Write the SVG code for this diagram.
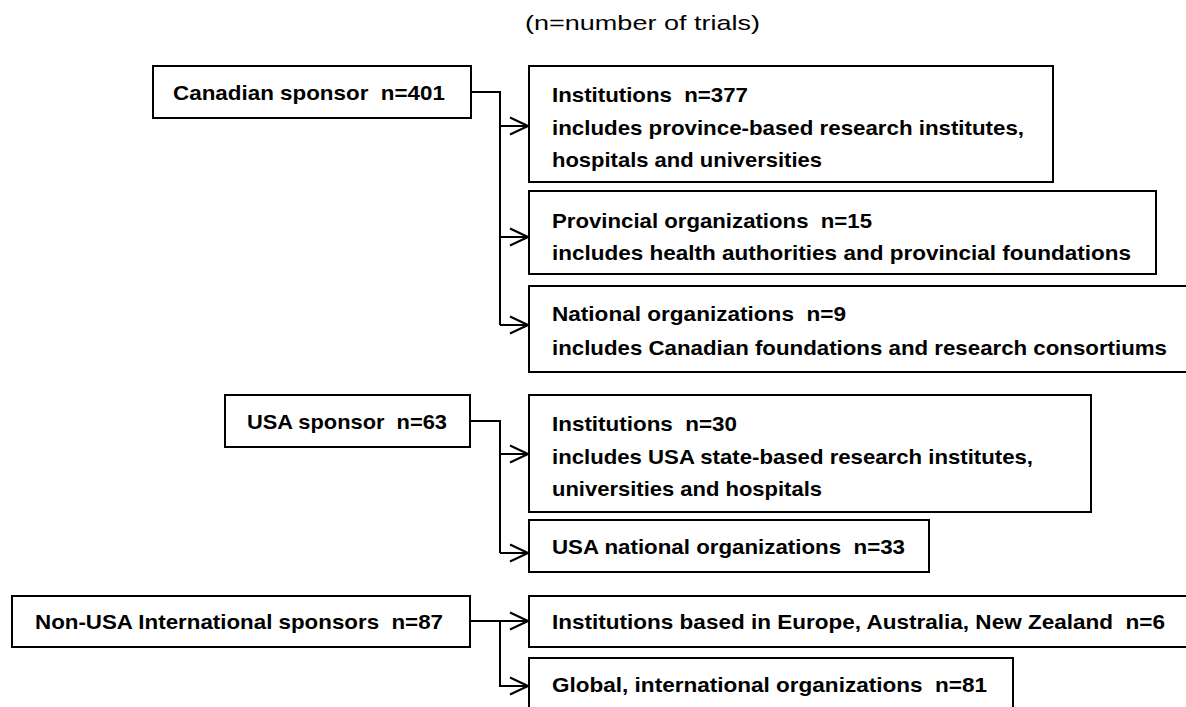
<svg xmlns="http://www.w3.org/2000/svg" width="1186" height="707" viewBox="0 0 1186 707">
<style>
.box{fill:#fff;stroke:#000;stroke-width:2}
.t{font-family:"Liberation Sans",Arial,sans-serif;font-weight:bold;font-size:21px;fill:#000;white-space:pre}
.n{font-family:"Liberation Sans",Arial,sans-serif;font-size:21px;fill:#000;white-space:pre}
.c{fill:none;stroke:#000;stroke-width:2}
</style>
<defs>
<marker id="arr" markerUnits="userSpaceOnUse" markerWidth="20" markerHeight="20" viewBox="0 0 20 20" refX="19" refY="10" orient="auto">
<path d="M1,1.5 L19,10 L1,18.5" fill="none" stroke="#000" stroke-width="2"/>
</marker>
</defs>
<rect width="1186" height="707" fill="#fff"/>
<text class="n" x="525" y="30" textLength="235" lengthAdjust="spacingAndGlyphs">(n=number of trials)</text>

<g id="connectors">
<path class="c" d="M471,92 H500 V325"/>
<path class="c" d="M500,126 H528" marker-end="url(#arr)"/>
<path class="c" d="M500,237 H528" marker-end="url(#arr)"/>
<path class="c" d="M500,325 H528" marker-end="url(#arr)"/>
<path class="c" d="M470,421 H500 V553"/>
<path class="c" d="M500,454 H528" marker-end="url(#arr)"/>
<path class="c" d="M500,553 H528" marker-end="url(#arr)"/>
<path class="c" d="M470,621 H528" marker-end="url(#arr)"/>
<path class="c" d="M500,621 V686 H528" marker-end="url(#arr)"/>
</g>

<g id="canadian">
<rect class="box" x="153" y="66" width="318" height="52"/>
<text class="t" x="173" y="100" textLength="272" lengthAdjust="spacingAndGlyphs">Canadian sponsor  n=401</text>
</g>
<g id="ca-institutions">
<rect class="box" x="529" y="66" width="524" height="116"/>
<text class="t" x="552" y="102" textLength="196" lengthAdjust="spacingAndGlyphs">Institutions  n=377</text>
<text class="t" x="552" y="135" textLength="472" lengthAdjust="spacingAndGlyphs">includes province-based research institutes,</text>
<text class="t" x="552" y="167" textLength="270" lengthAdjust="spacingAndGlyphs">hospitals and universities</text>
</g>
<g id="ca-provincial">
<rect class="box" x="529" y="191" width="627" height="83"/>
<text class="t" x="552" y="228" textLength="320" lengthAdjust="spacingAndGlyphs">Provincial organizations  n=15</text>
<text class="t" x="552" y="260" textLength="579" lengthAdjust="spacingAndGlyphs">includes health authorities and provincial foundations</text>
</g>
<g id="ca-national">
<rect class="box" x="529" y="286" width="663" height="86"/>
<text class="t" x="552" y="321" textLength="294" lengthAdjust="spacingAndGlyphs">National organizations  n=9</text>
<text class="t" x="552" y="355" textLength="615" lengthAdjust="spacingAndGlyphs">includes Canadian foundations and research consortiums</text>
</g>

<g id="usa">
<rect class="box" x="225" y="395" width="245" height="52"/>
<text class="t" x="247" y="429" textLength="200" lengthAdjust="spacingAndGlyphs">USA sponsor  n=63</text>
</g>
<g id="us-institutions">
<rect class="box" x="529" y="395" width="562" height="117"/>
<text class="t" x="552" y="431" textLength="185" lengthAdjust="spacingAndGlyphs">Institutions  n=30</text>
<text class="t" x="552" y="464" textLength="481" lengthAdjust="spacingAndGlyphs">includes USA state-based research institutes,</text>
<text class="t" x="552" y="496" textLength="270" lengthAdjust="spacingAndGlyphs">universities and hospitals</text>
</g>
<g id="us-national">
<rect class="box" x="529" y="520" width="400" height="52"/>
<text class="t" x="552" y="554" textLength="353" lengthAdjust="spacingAndGlyphs">USA national organizations  n=33</text>
</g>

<g id="nonusa">
<rect class="box" x="12" y="596" width="458" height="51"/>
<text class="t" x="35" y="629" textLength="408" lengthAdjust="spacingAndGlyphs">Non-USA International sponsors  n=87</text>
</g>
<g id="intl-institutions">
<rect class="box" x="529" y="596" width="663" height="51"/>
<text class="t" x="552" y="629" textLength="613" lengthAdjust="spacingAndGlyphs">Institutions based in Europe, Australia, New Zealand  n=6</text>
</g>
<g id="intl-global">
<rect class="box" x="529" y="658" width="484" height="62"/>
<text class="t" x="552" y="692" textLength="435" lengthAdjust="spacingAndGlyphs">Global, international organizations  n=81</text>
</g>
</svg>
